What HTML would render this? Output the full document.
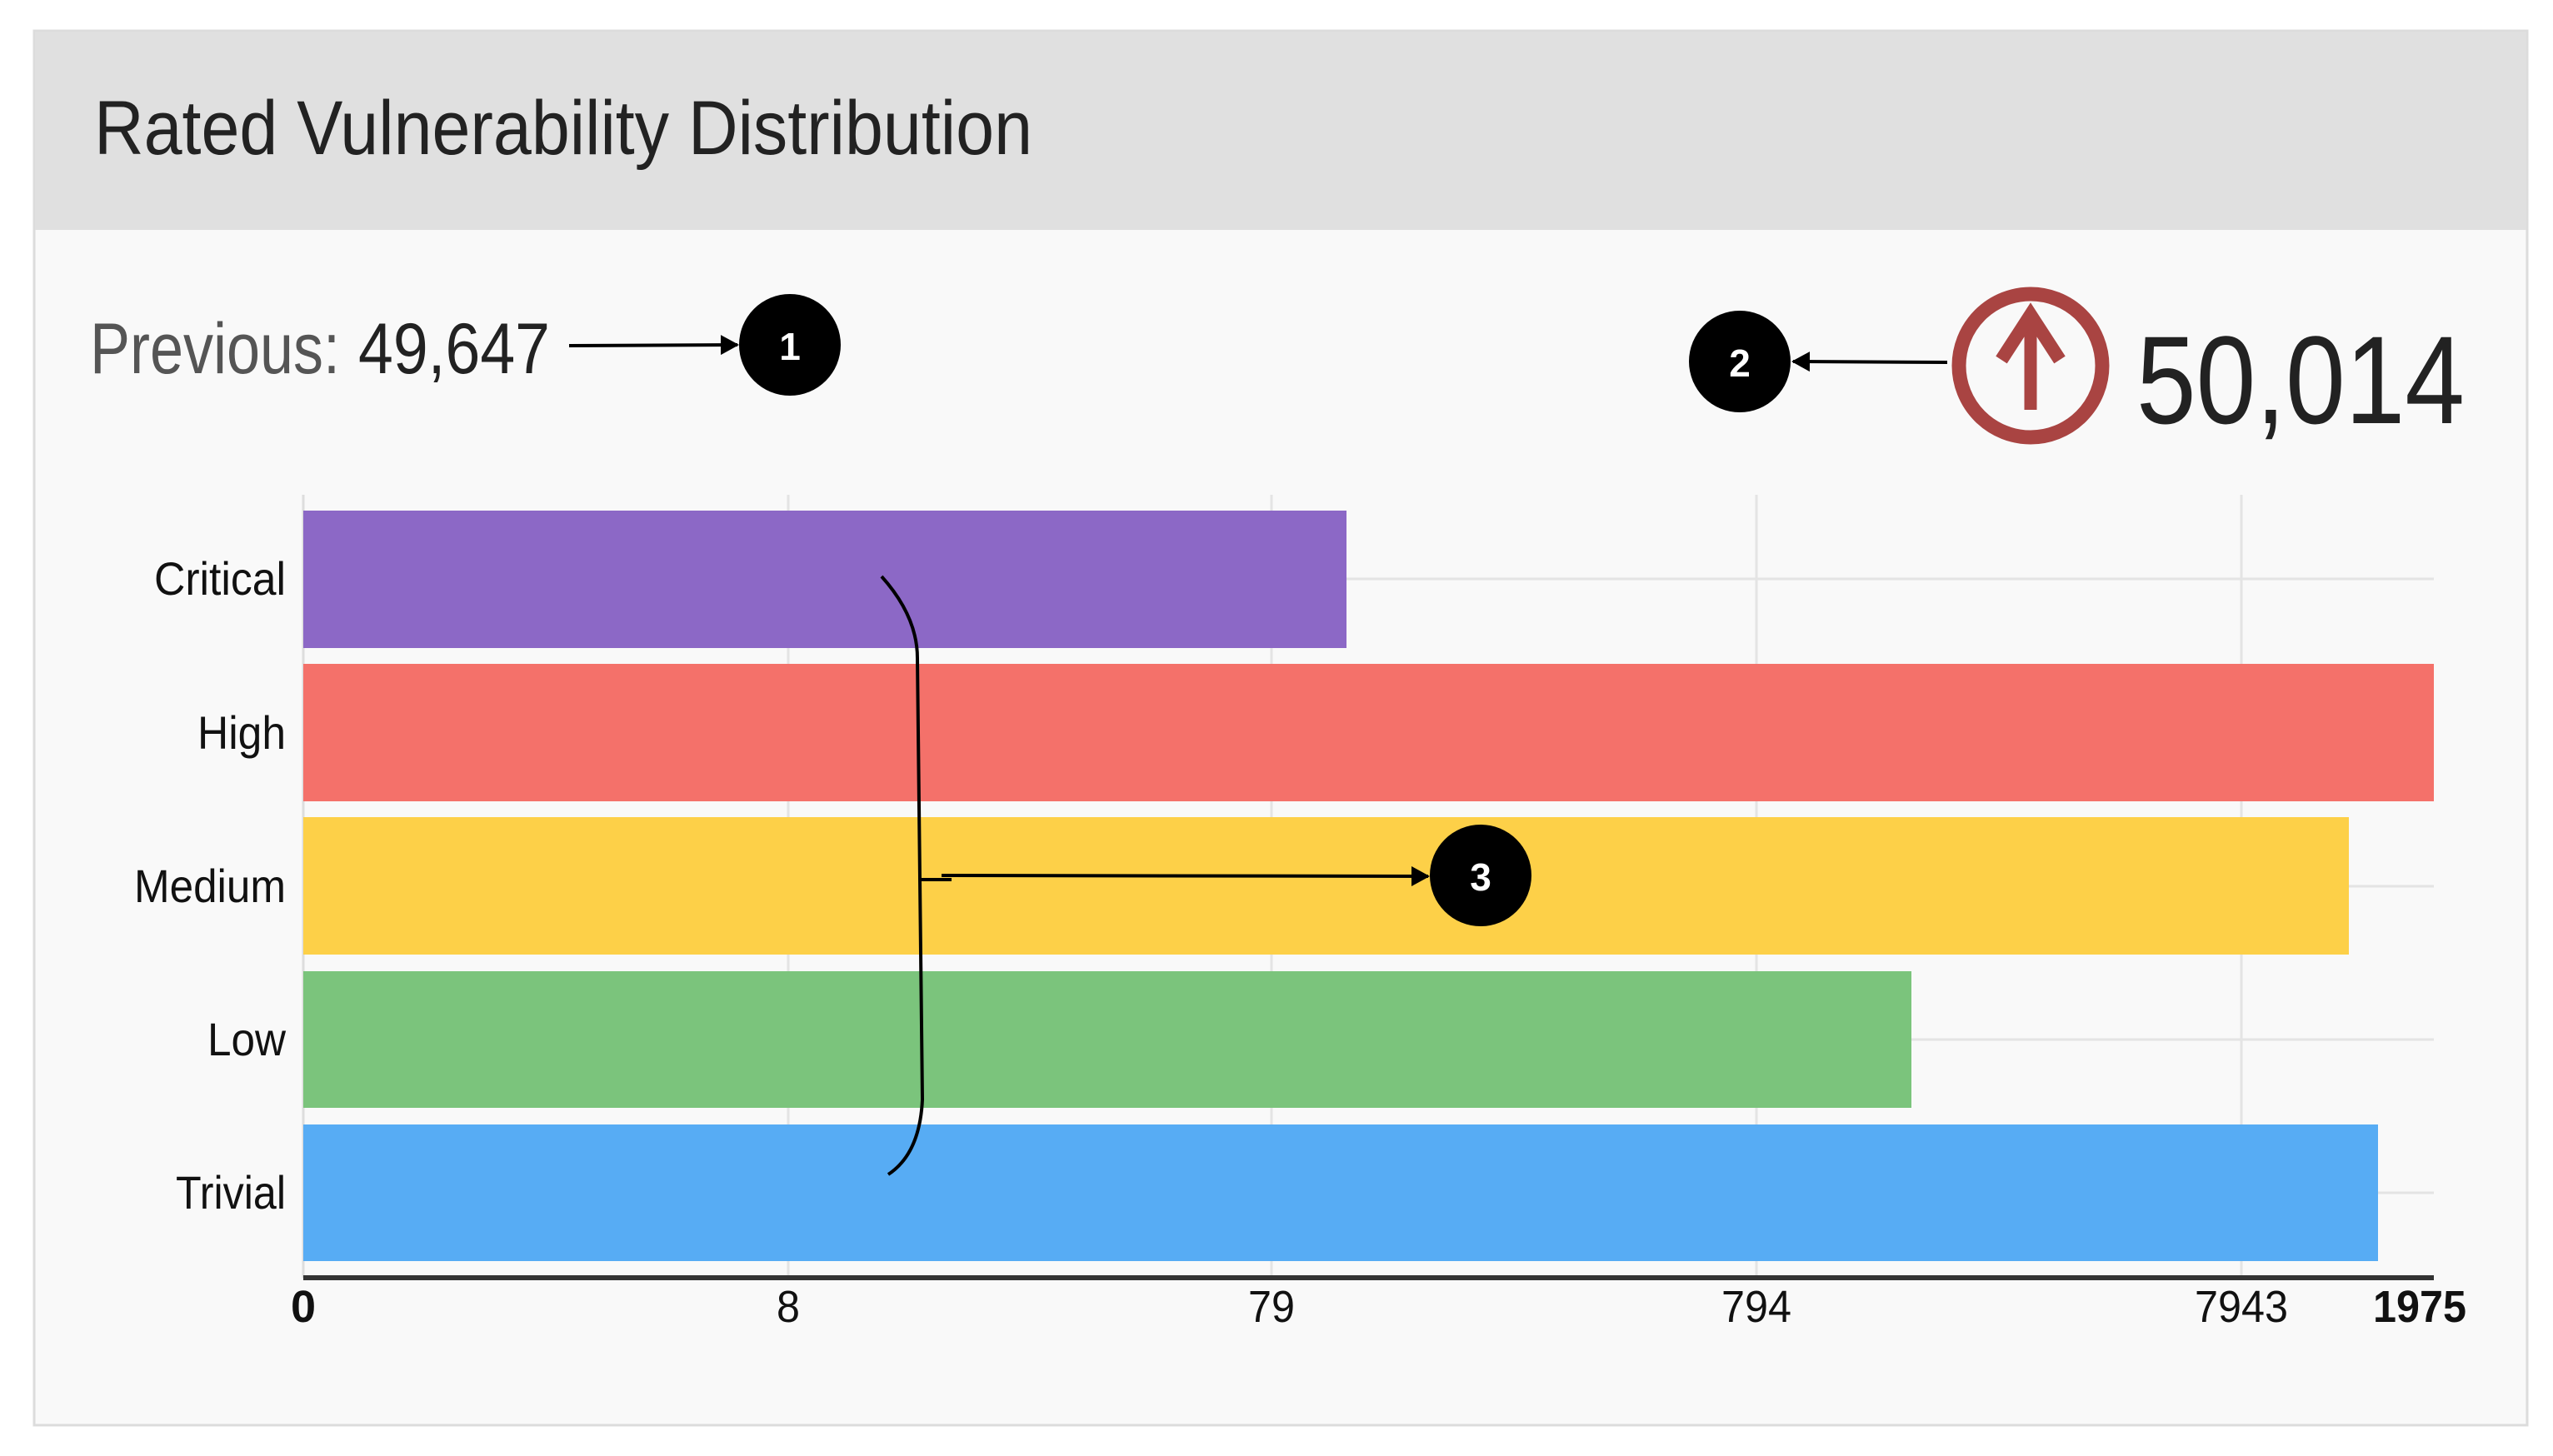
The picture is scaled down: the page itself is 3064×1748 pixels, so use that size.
<!DOCTYPE html>
<html><head><meta charset="utf-8"><style>
html,body{margin:0;padding:0;background:#fff;}
svg{display:block;}
text{font-family:"Liberation Sans",sans-serif;}
</style></head><body>
<svg width="3064" height="1748" viewBox="0 0 3064 1748" xmlns="http://www.w3.org/2000/svg">
<defs>
<marker id="ah" markerWidth="22" markerHeight="24" refX="20" refY="12" orient="auto" markerUnits="userSpaceOnUse" viewBox="0 0 22 24">
<path d="M0,0 L22,12 L0,24 z" fill="#000"/></marker>
</defs>
<rect x="0" y="0" width="3064" height="1748" fill="#fff"/>
<rect x="41" y="37" width="2992" height="1674" fill="#f9f9f9" stroke="#dcdcdc" stroke-width="3"/>
<rect x="42" y="38" width="2990" height="238" fill="#e0e0e0"/>
<text x="113" y="185" font-size="92" fill="#222" textLength="1126" lengthAdjust="spacingAndGlyphs">Rated Vulnerability Distribution</text>

<text x="108" y="448" font-size="86" fill="#555" textLength="300" lengthAdjust="spacingAndGlyphs">Previous:</text>
<text x="430" y="448" font-size="86" fill="#222" textLength="230" lengthAdjust="spacingAndGlyphs">49,647</text>
<line x1="683" y1="415" x2="885" y2="414" stroke="#000" stroke-width="4" marker-end="url(#ah)"/>
<ellipse cx="948" cy="414" rx="61" ry="61" fill="#000"/>
<text x="948" y="432" font-size="46" font-weight="bold" fill="#fff" text-anchor="middle">1</text>

<ellipse cx="2088" cy="434" rx="61" ry="61" fill="#000"/>
<text x="2088" y="452" font-size="46" font-weight="bold" fill="#fff" text-anchor="middle">2</text>
<line x1="2337" y1="435" x2="2152" y2="434" stroke="#000" stroke-width="4" marker-end="url(#ah)"/>

<circle cx="2437" cy="439" r="86" fill="none" stroke="#a94442" stroke-width="17"/>
<path d="M2437,492 L2437,392" stroke="#a94442" stroke-width="15" fill="none"/>
<path d="M2402,432 L2437,378 L2472,432" stroke="#a94442" stroke-width="16" fill="none" stroke-linejoin="miter"/>
<text x="2564" y="508" font-size="150" fill="#222" textLength="394" lengthAdjust="spacingAndGlyphs">50,014</text>

<g stroke="#e4e4e4" stroke-width="3">
<line x1="946" y1="594" x2="946" y2="1534"/>
<line x1="1526" y1="594" x2="1526" y2="1534"/>
<line x1="2108" y1="594" x2="2108" y2="1534"/>
<line x1="2690" y1="594" x2="2690" y2="1534"/>
<line x1="364" y1="695" x2="2921" y2="695"/>
<line x1="364" y1="880" x2="2921" y2="880"/>
<line x1="364" y1="1064" x2="2921" y2="1064"/>
<line x1="364" y1="1248" x2="2921" y2="1248"/>
<line x1="364" y1="1432" x2="2921" y2="1432"/>
</g>
<line x1="364" y1="594" x2="364" y2="1534" stroke="#ddd" stroke-width="3"/>
<rect x="364" y="613" width="1252" height="165" fill="#8c68c6"/>
<rect x="364" y="797" width="2557" height="165" fill="#f4716a"/>
<rect x="364" y="981" width="2455" height="165" fill="#fdd048"/>
<rect x="364" y="1166" width="1930" height="164" fill="#7bc47c"/>
<rect x="364" y="1350" width="2490" height="164" fill="#57acf4"/>
<line x1="364" y1="1534" x2="2921" y2="1534" stroke="#333" stroke-width="6"/>

<g font-size="56" fill="#111" text-anchor="end">
<text x="343" y="714" textLength="158" lengthAdjust="spacingAndGlyphs">Critical</text>
<text x="343" y="899" textLength="106" lengthAdjust="spacingAndGlyphs">High</text>
<text x="343" y="1083" textLength="182" lengthAdjust="spacingAndGlyphs">Medium</text>
<text x="343" y="1267" textLength="94" lengthAdjust="spacingAndGlyphs">Low</text>
<text x="343" y="1451" textLength="132" lengthAdjust="spacingAndGlyphs">Trivial</text>
</g>
<g font-size="54" fill="#111" text-anchor="middle">
<text x="364" y="1587" font-weight="bold">0</text>
<text x="946" y="1587" textLength="28" lengthAdjust="spacingAndGlyphs">8</text>
<text x="1526" y="1587" textLength="56" lengthAdjust="spacingAndGlyphs">79</text>
<text x="2108" y="1587" textLength="84" lengthAdjust="spacingAndGlyphs">794</text>
<text x="2690" y="1587" textLength="112" lengthAdjust="spacingAndGlyphs">7943</text>
<text x="2904" y="1587" font-weight="bold" textLength="112" lengthAdjust="spacingAndGlyphs">1975</text>
</g>

<path d="M1058,692 Q1101,740 1101,790 L1107,1320 Q1104,1385 1066,1410" fill="none" stroke="#000" stroke-width="4"/>
<line x1="1104" y1="1056" x2="1142" y2="1056" stroke="#000" stroke-width="4"/>
<line x1="1130" y1="1051" x2="1714" y2="1052" stroke="#000" stroke-width="4" marker-end="url(#ah)"/>
<circle cx="1777" cy="1051" r="61" fill="#000"/>
<text x="1777" y="1069" font-size="46" font-weight="bold" fill="#fff" text-anchor="middle">3</text>
</svg>
</body></html>
